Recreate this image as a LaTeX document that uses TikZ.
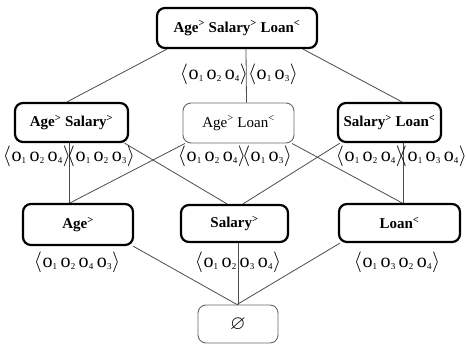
\documentclass[tikz,border=0pt]{standalone}
\usepackage{fontspec}
\usepackage{amssymb}
\usetikzlibrary{backgrounds}
\setmainfont{Liberation Serif}
\newcommand\osub[1]{o\kern0.2pt\raisebox{-2.6pt}{\fontsize{9}{9}\selectfont #1}}
\newcommand\gp{\hspace{3.4pt}}
\newcommand\olist[1]{$\langle$\kern0.5pt#1\kern0.5pt$\rangle$}
\begin{document}
\begin{tikzpicture}[x=1pt,y=-1pt,
  boldbox/.style={draw=black, line width=2.2pt, rounded corners=8pt, fill=white,
    font=\fontsize{15}{18}\selectfont\bfseries, inner sep=2pt},
  thinbox/.style={draw=black!60, line width=0.9pt, rounded corners=8pt, fill=white,
    font=\fontsize{15}{18}\selectfont, inner sep=2pt},
  lab/.style={font=\fontsize{20}{22}\selectfont, inner sep=0pt},
  edge/.style={draw=black!70, line width=0.8pt}]
\useasboundingbox (0,0) rectangle (466,345);
% boxes
\node[boldbox, minimum width=160pt, minimum height=40pt] (top) at (237,28) {Age\textsuperscript{>} Salary\textsuperscript{>} Loan\textsuperscript{<}};
\node[boldbox, minimum width=113pt, minimum height=39pt] (AS) at (71.5,122.5) {Age\textsuperscript{>} Salary\textsuperscript{>}};
\node[thinbox, minimum width=111pt, minimum height=40pt] (AL) at (238.5,123) {Age\textsuperscript{>} Loan\textsuperscript{<}};
\node[boldbox, minimum width=103pt, minimum height=39pt] (SL) at (389.5,122.5) {Salary\textsuperscript{>} Loan\textsuperscript{<}};
\node[boldbox, minimum width=110pt, minimum height=41pt] (Ag) at (78,224.5) {Age\textsuperscript{>}};
\node[boldbox, minimum width=107pt, minimum height=37pt] (Sa) at (234.5,223.5) {Salary\textsuperscript{>}};
\node[boldbox, minimum width=121pt, minimum height=38pt] (Lo) at (399.5,223) {Loan\textsuperscript{<}};
\node[thinbox, minimum width=80pt, minimum height=38pt, font=\fontsize{20}{22}\selectfont] (E) at (238,324) {$\varnothing$};
% edges
\begin{scope}[on background layer]
\draw[edge] ([xshift=-70pt]top.south) -- ([xshift=-4.5pt]AS.north);
\draw[edge] ([xshift=9pt]top.south) -- ([xshift=8pt]AL.north);
\draw[edge] ([xshift=66pt]top.south) -- ([xshift=12.5pt]SL.north);
\draw[edge] ([xshift=-2.5pt]AS.south) -- ([xshift=-9pt]Ag.north);
\draw[edge] ([xshift=53pt]AS.south) -- ([xshift=-7.5pt]Sa.north);
\draw[edge] ([xshift=-53.5pt]AL.south) -- ([xshift=-8pt]Ag.north);
\draw[edge] ([xshift=53.5pt]AL.south) -- ([xshift=2.5pt]Lo.north);
\draw[edge] ([xshift=-49.5pt]SL.south) -- ([xshift=8.5pt]Sa.north);
\draw[edge] ([xshift=13.5pt]SL.south) -- ([xshift=3.5pt]Lo.north);
\draw[edge] ([xshift=55pt]Ag.south) -- ([xshift=-1pt]E.north);
\draw[edge] ([xshift=3.5pt]Sa.south) -- (E.north);
\draw[edge] ([xshift=-59.5pt]Lo.south) -- ([xshift=-1pt]E.north);
\end{scope}
% labels
\node[lab] (l0a) at (214,74) {\olist{\osub{1}\gp\osub{2}\gp\osub{4}}};
\node[lab] (l0b) at (273,74) {\olist{\osub{1}\gp\osub{3}}};
\node[lab] (l1a) at (37,156) {\olist{\osub{1}\gp\osub{2}\gp\osub{4}}};
\node[lab] (l1b) at (101,156) {\olist{\osub{1}\gp\osub{2}\gp\osub{3}}};
\node[lab] (l2a) at (212,156) {\olist{\osub{1}\gp\osub{2}\gp\osub{4}}};
\node[lab] (l2b) at (267,156) {\olist{\osub{1}\gp\osub{3}}};
\node[lab] (l3a) at (370,156) {\olist{\osub{1}\gp\osub{2}\gp\osub{4}}};
\node[lab] (l3b) at (433,156) {\olist{\osub{1}\gp\osub{3}\gp\osub{4}}};
\node[lab] (l4) at (77,262) {\olist{\osub{1}\gp\osub{2}\gp\osub{4}\gp\osub{3}}};
\node[lab] (l5) at (238,262) {\olist{\osub{1}\gp\osub{2}\gp\osub{3}\gp\osub{4}}};
\node[lab] (l6) at (397,262) {\olist{\osub{1}\gp\osub{3}\gp\osub{2}\gp\osub{4}}};
\end{tikzpicture}
\end{document}
